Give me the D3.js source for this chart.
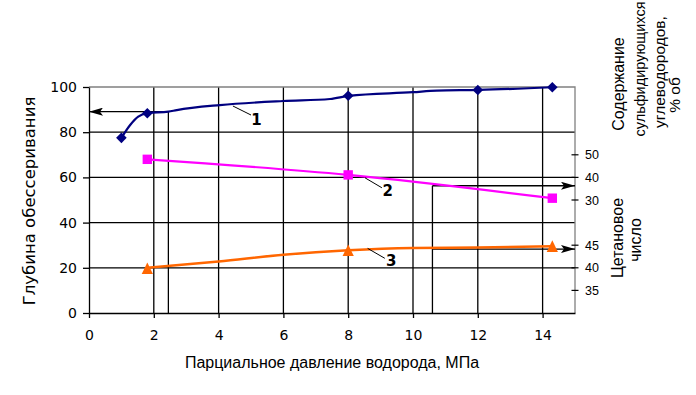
<!DOCTYPE html>
<html>
<head>
<meta charset="utf-8">
<script src="https://cdn.jsdelivr.net/npm/d3@7"></script>
<style>
  body { margin: 0; background: #fff; }
  svg { display: block; }
</style>
</head>
<body>
<div id="my_dataviz"></div>
<script>
// ---- data ----
// curve 1: desulfurisation depth (left axis, %)
const pressure1 = [1.0, 1.8, 8, 12, 14.3];
const depth1 = [77.5, 88.4, 96.1, 98.7, 99.9];
const curve1X = [1.0, 1.27, 1.52, 1.8, 2.45, 2.71, 4.04, 5.99, 7.44, 8.02, 10.0, 10.73, 12.04, 14.3];
const curve1Y = [77.5, 83.2, 86.9, 88.4, 89.1, 89.8, 92.0, 93.8, 94.7, 96.1, 97.7, 98.4, 98.7, 99.9];

// curve 2: sulfur-containing hydrocarbons content (right upper scale, % vol)
const pressure2 = [1.8, 8, 14.3];
const sulfur2 = [48.0, 41.1, 30.8];

// curve 3: cetane number (right lower scale)
const pressure3 = [1.8, 8, 14.3];
const cetane3 = [39.8, 43.8, 44.7];
const curve3X = [1.8, 4, 6, 8, 10, 12, 14.3];
const curve3Y = [40.0, 41.4, 42.9, 43.9, 44.4, 44.5, 44.75];

// reading lines
const readX1 = 2.45, readDepth = 89.1;
const readX2 = 10.6, readSulfur = 36.3, readCetane = 44.15;

// ticks
const xTicks = [0, 2, 4, 6, 8, 10, 12, 14];
const yTicks = [0, 20, 40, 60, 80, 100];
const sulfurTicks = [30, 40, 50];
const cetaneTicks = [35, 40, 45];

// ---- layout ----
const W = 696, H = 395;
const margin = {top: 87, right: 121, bottom: 82, left: 89};
const width = W - margin.left - margin.right,
      height = H - margin.top - margin.bottom;

const svg = d3.select("#my_dataviz")
  .append("svg")
    .attr("width", W)
    .attr("height", H);

const defs = svg.append("defs");
defs.append("marker")
    .attr("id", "arrow")
    .attr("viewBox", "0 0 14 8")
    .attr("refX", 14).attr("refY", 4)
    .attr("markerWidth", 14).attr("markerHeight", 8)
    .attr("markerUnits", "userSpaceOnUse")
    .attr("orient", "auto")
  .append("path")
    .attr("d", "M0,0 L14,4 L0,8 L3,4 Z")
    .attr("fill", "#000");

const g = svg.append("g")
  .attr("transform", `translate(${margin.left},${margin.top})`);

const x = d3.scaleLinear().domain([0, 15]).range([0, width]);
const y = d3.scaleLinear().domain([0, 100]).range([height, 0]);
// secondary scales share the plot: sulfur s -> s + 20, cetane c -> 2c - 60
const ySulf = d3.scaleLinear().domain([30, 50]).range([y(50), y(70)]);
const yCet = d3.scaleLinear().domain([35, 45]).range([y(10), y(30)]);

// grid
g.append("g")
  .selectAll("line")
  .data(yTicks.filter(d => d > 0 && d < 100))
  .join("line")
    .attr("x1", 0).attr("x2", width)
    .attr("y1", d => y(d)).attr("y2", d => y(d))
    .attr("stroke", "#000").attr("stroke-width", 1.3);

g.append("g")
  .selectAll("line")
  .data(xTicks.filter(d => d > 0))
  .join("line")
    .attr("x1", d => x(d)).attr("x2", d => x(d))
    .attr("y1", 0).attr("y2", height)
    .attr("stroke", "#000").attr("stroke-width", 1.3);

// plot border (grey top / right)
g.append("path")
  .attr("d", `M0,0 H${width} V${height}`)
  .attr("fill", "none")
  .attr("stroke", "#808080")
  .attr("stroke-width", 1.3);

// left axis
const yAxis = g.append("g")
  .call(d3.axisLeft(y).tickValues(yTicks).tickSize(6).tickPadding(6).tickSizeOuter(0))
  .attr("font-family", "DejaVu Sans")
  .attr("font-size", 14);
yAxis.select(".domain").attr("stroke", "#000").attr("stroke-width", 1.3);
yAxis.selectAll(".tick line").attr("stroke-width", 1.3);
yAxis.selectAll("text").attr("fill", "#000");

// bottom axis
const xAxis = g.append("g")
  .attr("transform", `translate(0,${height})`)
  .call(d3.axisBottom(x).tickValues(xTicks).tickSize(5).tickPadding(12).tickSizeOuter(0))
  .attr("font-family", "DejaVu Sans")
  .attr("font-size", 14);
xAxis.select(".domain").attr("stroke", "#000").attr("stroke-width", 1.3);
xAxis.selectAll(".tick line").attr("stroke-width", 1.3);
xAxis.selectAll("text").attr("fill", "#000");

// right secondary scales
const rightAx = (scale, ticks) => {
  const a = g.append("g").attr("transform", `translate(${width},0)`);
  a.selectAll("line")
    .data(ticks)
    .join("line")
      .attr("x1", -3.5).attr("x2", 3.5)
      .attr("y1", d => scale(d)).attr("y2", d => scale(d))
      .attr("stroke", "#000").attr("stroke-width", 1.2);
  a.selectAll("text")
    .data(ticks)
    .join("text")
      .attr("x", 10)
      .attr("y", d => scale(d))
      .attr("dy", "0.36em")
      .attr("font-family", "Liberation Sans")
      .attr("font-size", 12.5)
      .text(d => d);
};
rightAx(ySulf, sulfurTicks);
rightAx(yCet, cetaneTicks);

// reading lines with arrows
const reading = g.append("g")
  .attr("fill", "none")
  .attr("stroke", "#000")
  .attr("stroke-width", 1.3);
reading.append("line")
  .attr("x1", x(readX1)).attr("x2", x(readX1))
  .attr("y1", y(0)).attr("y2", y(readDepth));
reading.append("line")
  .attr("x1", x(readX1)).attr("x2", x(0))
  .attr("y1", y(readDepth)).attr("y2", y(readDepth))
  .attr("marker-end", "url(#arrow)");
reading.append("line")
  .attr("x1", x(readX2)).attr("x2", x(readX2))
  .attr("y1", y(0)).attr("y2", ySulf(readSulfur));
reading.append("line")
  .attr("x1", x(readX2)).attr("x2", x(15))
  .attr("y1", ySulf(readSulfur)).attr("y2", ySulf(readSulfur))
  .attr("marker-end", "url(#arrow)");
reading.append("line")
  .attr("x1", x(readX2)).attr("x2", x(15))
  .attr("y1", yCet(readCetane)).attr("y2", yCet(readCetane))
  .attr("marker-end", "url(#arrow)");

// series lines
const line1 = d3.line().curve(d3.curveMonotoneX)
  .x((d, i) => x(curve1X[i])).y(d => y(d));
g.append("path")
  .attr("d", line1(curve1Y))
  .attr("fill", "none").attr("stroke", "#000080").attr("stroke-width", 2.2);

const line2 = d3.line().curve(d3.curveMonotoneX)
  .x((d, i) => x(pressure2[i])).y(d => ySulf(d));
g.append("path")
  .attr("d", line2(sulfur2))
  .attr("fill", "none").attr("stroke", "#FF00FF").attr("stroke-width", 2.2);

const line3 = d3.line().curve(d3.curveMonotoneX)
  .x((d, i) => x(curve3X[i])).y(d => yCet(d));
g.append("path")
  .attr("d", line3(curve3Y))
  .attr("fill", "none").attr("stroke", "#FF6600").attr("stroke-width", 2.5);

// markers
g.append("g")
  .selectAll("path")
  .data(depth1)
  .join("path")
    .attr("transform", (d, i) => `translate(${x(pressure1[i])},${y(d)})`)
    .attr("d", "M0,-5.3 L5.3,0 L0,5.3 L-5.3,0 Z")
    .attr("fill", "#000080");

g.append("g")
  .selectAll("rect")
  .data(sulfur2)
  .join("rect")
    .attr("x", (d, i) => x(pressure2[i]) - 4.7)
    .attr("y", d => ySulf(d) - 4.7)
    .attr("width", 9.4).attr("height", 9.4)
    .attr("fill", "#FF00FF");

g.append("g")
  .selectAll("path")
  .data(cetane3)
  .join("path")
    .attr("transform", (d, i) => `translate(${x(pressure3[i])},${yCet(d)})`)
    .attr("d", "M0,-6.2 L5.6,5.4 L-5.6,5.4 Z")
    .attr("fill", "#FF6600");

// curve labels with leader lines (data coordinates on the left scale)
const labels = [
  {t: "1", x0: 4.44, y0: 91.6, x1: 5.0, y1: 87.6, tx: 5.17, ty: 83.2},
  {t: "2", x0: 8.52, y0: 59.8, x1: 9.04, y1: 55.4, tx: 9.22, ty: 51.8},
  {t: "3", x0: 8.6, y0: 28.6, x1: 9.13, y1: 24.2, tx: 9.33, ty: 20.8}
];
g.append("g")
  .selectAll("line")
  .data(labels)
  .join("line")
    .attr("x1", d => x(d.x0)).attr("y1", d => y(d.y0))
    .attr("x2", d => x(d.x1)).attr("y2", d => y(d.y1))
    .attr("stroke", "#000").attr("stroke-width", 1);
g.append("g")
  .selectAll("text")
  .data(labels)
  .join("text")
    .attr("x", d => x(d.tx)).attr("y", d => y(d.ty))
    .attr("text-anchor", "middle")
    .attr("font-family", "DejaVu Sans")
    .attr("font-weight", "bold")
    .attr("font-size", 15)
    .text(d => d.t);

// axis titles
svg.append("text")
  .attr("transform", "translate(35,201) rotate(-90)")
  .attr("text-anchor", "middle")
  .attr("font-family", "DejaVu Sans")
  .attr("font-size", 16.5)
  .text("Глубина обессеривания");

svg.append("text")
  .attr("x", 332).attr("y", 368)
  .attr("text-anchor", "middle")
  .attr("font-family", "Liberation Sans")
  .attr("font-size", 16)
  .text("Парциальное давление водорода, МПа");

const rightTitle = [
  {t: "Содержание", bx: 624, cy: 84, fs: 16},
  {t: "сульфидирующихся", bx: 645, cy: 69, fs: 14.5},
  {t: "углеводородов,", bx: 665, cy: 72, fs: 15.5},
  {t: "% об", bx: 680, cy: 95, fs: 15.5},
  {t: "Цетановое", bx: 623, cy: 238, fs: 16},
  {t: "число", bx: 641, cy: 240, fs: 16}
];
svg.append("g")
  .selectAll("text")
  .data(rightTitle)
  .join("text")
    .attr("transform", d => `translate(${d.bx},${d.cy}) rotate(-90)`)
    .attr("text-anchor", "middle")
    .attr("font-family", "Liberation Sans")
    .attr("font-size", d => d.fs)
    .text(d => d.t);
</script>
</body>
</html>
